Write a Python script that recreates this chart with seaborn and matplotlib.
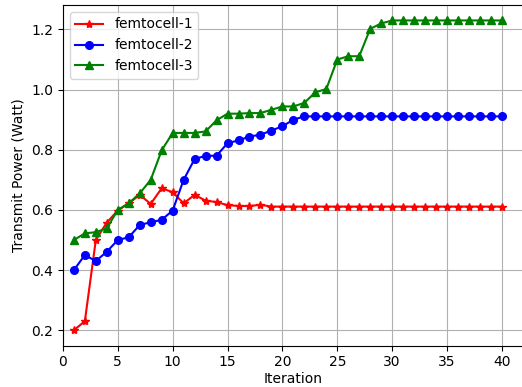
import numpy as np
import pandas as pd
import seaborn as sns
import matplotlib
matplotlib.use("Agg")
import matplotlib.pyplot as plt

# ---------- data ----------
iterations = list(range(1, 41))

femto_1 = [0.20, 0.23, 0.50, 0.558, 0.598, 0.622, 0.65, 0.62, 0.672, 0.659,
           0.622, 0.65, 0.631, 0.626, 0.616, 0.613, 0.613, 0.617] + [0.611] * 22

femto_2 = [0.40, 0.45, 0.43, 0.461, 0.50, 0.509, 0.55, 0.559, 0.567, 0.598,
           0.70, 0.769, 0.78, 0.78, 0.822, 0.831, 0.844, 0.85, 0.864, 0.878,
           0.90] + [0.911] * 19

femto_3 = [0.50, 0.522, 0.526, 0.539, 0.60, 0.622, 0.655, 0.70, 0.798, 0.856,
           0.856, 0.856, 0.861, 0.898, 0.92, 0.92, 0.922, 0.922, 0.933, 0.944,
           0.944, 0.956, 0.991, 1.002, 1.10, 1.111, 1.111, 1.202, 1.22] + [1.23] * 11

series_names = ["femtocell-1", "femtocell-2", "femtocell-3"]
series_vals = [femto_1, femto_2, femto_3]
colors = ["red", "blue", "green"]
markers = ["*", "o", "^"]
msizes = [6, 5.5, 5.5]

# ---------- plot ----------
fig = plt.figure(figsize=(5.22, 3.87), dpi=100)
ax = fig.add_axes([0.1205, 0.1067, 0.882, 0.8805])

for name, vals, c, m, ms in zip(series_names, series_vals, colors, markers, msizes):
    df = pd.DataFrame({"Iteration": iterations, "Power": vals})
    sns.lineplot(data=df, x="Iteration", y="Power", ax=ax, color=c,
                 marker=m, markersize=ms, markeredgecolor=c,
                 markeredgewidth=1, linewidth=1.5, label=name,
                 errorbar=None)

ax.set_xlim(0, 41.95)
ax.set_ylim(0.1485, 1.2815)
ax.set_xticks(range(0, 41, 5))
ax.set_yticks([0.2, 0.4, 0.6, 0.8, 1.0, 1.2])
ax.grid(True, color="#b0b0b0", linewidth=0.8)
ax.set_axisbelow(True)
# reference image is cropped at the right edge, no right spine visible
ax.spines["right"].set_visible(False)
ax.set_xlabel("Iteration", labelpad=2)
ax.set_ylabel("Transmit Power (Watt)")
ax.legend(loc="upper left")

fig.savefig("out.png", dpi=100)
